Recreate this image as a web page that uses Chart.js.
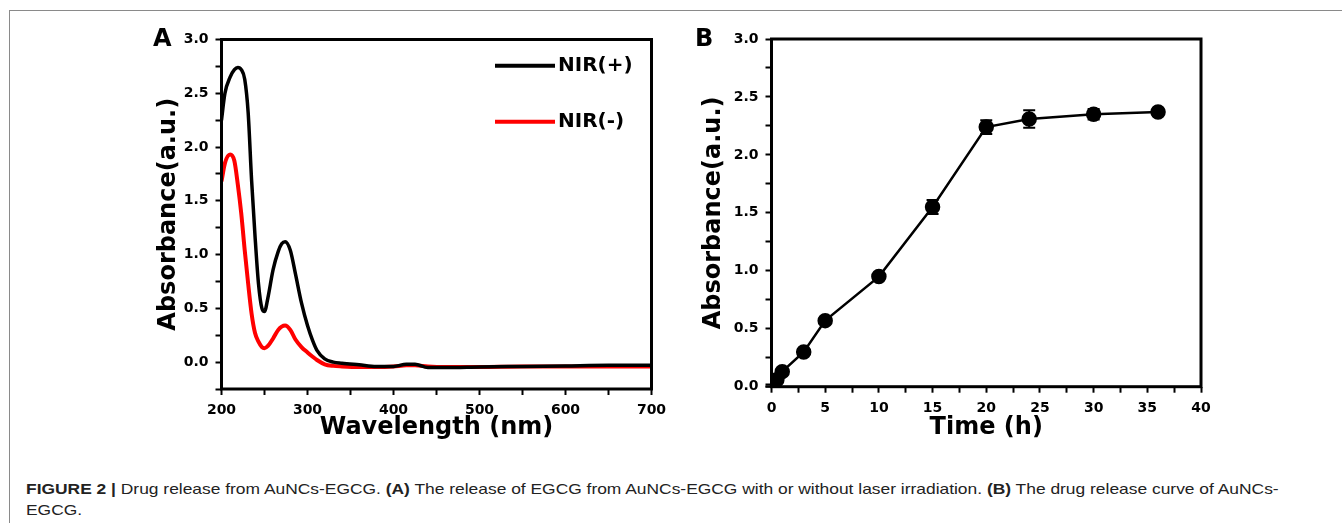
<!DOCTYPE html>
<html>
<head>
<meta charset="utf-8">
<script src="https://cdn.jsdelivr.net/npm/chart.js@4.4.1/dist/chart.umd.min.js"></script>
<style>
  html, body { margin: 0; padding: 0; background: #fff; }
  body { width: 1342px; height: 523px; position: relative; overflow: hidden; }
  #frame { position: absolute; left: 9px; top: 10px; width: 1340px; height: 520px;
           border-top: 1px solid #8a8a8a; border-left: 1px solid #8a8a8a; }
  .wrap { position: absolute; top: 0; height: 450px; }
  #wrapA { left: 0; width: 680px; }
  #wrapB { left: 680px; width: 662px; }
  .panel { position: absolute; top: 26px; font-family: "DejaVu Sans"; font-weight: bold;
           font-size: 24px; line-height: 24px; color: #000; }
  #caption { position: absolute; left: 26px; top: 478px; font-family: "Liberation Sans", Arial, sans-serif;
             font-size: 15px; line-height: 21px; color: #222; white-space: nowrap;
             transform-origin: 0 0; transform: scaleX(1.16); }
</style>
</head>
<body>
<div id="frame"></div>
<div class="wrap" id="wrapA"><canvas id="chartA" width="680" height="450"></canvas></div>
<div class="wrap" id="wrapB"><canvas id="chartB" width="662" height="450"></canvas></div>
<div class="panel" style="left:153px">A</div>
<div class="panel" style="left:695px">B</div>
<div id="caption"><b>FIGURE 2 |</b> Drug release from AuNCs-EGCG. <b>(A)</b> The release of EGCG from AuNCs-EGCG with or without laser irradiation. <b>(B)</b> The drug release curve of AuNCs-<br>EGCG.</div>

<script>
// Panel A: UV-vis spectra
const wavelengths = [200, 204, 210, 215, 219, 223, 227, 231, 235, 239, 243, 247, 250, 254, 260, 266, 270, 274,
    280, 286, 293, 300, 306, 311, 320, 330, 340, 360, 380, 400, 415, 425, 440, 460, 500, 550, 600, 650, 700];
const absNirPlus = [2.25, 2.50, 2.65, 2.72, 2.74, 2.72, 2.63, 2.32, 1.69, 1.17, 0.73, 0.50, 0.47, 0.60, 0.86, 1.03, 1.10, 1.12,
    1.04, 0.82, 0.55, 0.34, 0.20, 0.11, 0.03, 0.00, -0.01, -0.025, -0.04, -0.04, -0.02, -0.02, -0.05, -0.05, -0.045, -0.04, -0.035, -0.03, -0.03];
const absNirMinus = [1.68, 1.85, 1.93, 1.87, 1.65, 1.38, 1.04, 0.73, 0.45, 0.27, 0.19, 0.14, 0.13, 0.15, 0.22, 0.30, 0.33, 0.34,
    0.30, 0.21, 0.14, 0.09, 0.05, 0.02, -0.02, -0.035, -0.04, -0.045, -0.045, -0.04, -0.03, -0.03, -0.04, -0.045, -0.045, -0.04, -0.04, -0.04, -0.04];

// Panel B: release curve
const timeHours = [0, 0.5, 1, 3, 5, 10, 15, 20, 24, 30, 36];
const releaseAbs = [0.01, 0.06, 0.13, 0.30, 0.57, 0.95, 1.55, 2.24, 2.31, 2.35, 2.37];
const releaseErr = [0.01, 0.02, 0.02, 0.02, 0.02, 0.02, 0.06, 0.06, 0.075, 0.045, 0.03];

const FONT = '"DejaVu Sans"';

const framePlugin = {
    id: 'frame',
    afterDraw(chart) {
        const {ctx, chartArea: a} = chart;
        ctx.save();
        ctx.strokeStyle = '#000';
        ctx.lineWidth = 3;
        ctx.strokeRect(a.left, a.top, a.right - a.left, a.bottom - a.top);
        ctx.restore();
    }
};

// legend drawn inside the plot, line sample + label
const lineLegend = {
    id: 'lineLegend',
    afterDraw(chart, args, opts) {
        const {ctx, chartArea: a} = chart;
        chart.data.datasets.forEach((ds, i) => {
            const x = a.left + opts.left;
            const y = a.top + opts.top + i * opts.gap;
            ctx.save();
            ctx.strokeStyle = ds.borderColor;
            ctx.lineWidth = 4;
            ctx.beginPath();
            ctx.moveTo(x, y);
            ctx.lineTo(x + opts.len, y);
            ctx.stroke();
            ctx.fillStyle = '#000';
            ctx.font = 'bold 20px ' + FONT;
            ctx.textBaseline = 'middle';
            ctx.fillText(ds.label, x + opts.len + 3, y);
            ctx.restore();
        });
    }
};

const errorBars = {
    id: 'errorBars',
    afterDatasetsDraw(chart) {
        const {ctx, scales: {x, y}} = chart;
        const errs = chart.data.datasets[0].errors;
        ctx.save();
        ctx.strokeStyle = '#000';
        ctx.lineWidth = 2;
        chart.data.datasets[0].data.forEach((p, i) => {
            const px = x.getPixelForValue(p.x);
            const top = y.getPixelForValue(p.y + errs[i]);
            const bot = y.getPixelForValue(p.y - errs[i]);
            ctx.beginPath();
            ctx.moveTo(px, top); ctx.lineTo(px, bot);
            ctx.moveTo(px - 6, top); ctx.lineTo(px + 6, top);
            ctx.moveTo(px - 6, bot); ctx.lineTo(px + 6, bot);
            ctx.stroke();
        });
        ctx.restore();
    }
};

const everyOther = (major) => (v) => {
    const r = Math.abs(v / major - Math.round(v / major));
    return r < 1e-6 ? (major < 1 ? v.toFixed(1) : String(v)) : '';
};

const makeAxis = (o) => ({
    type: 'linear',
    min: o.min,
    max: o.max,
    grid: {drawOnChartArea: false, drawTicks: true, tickLength: 6, tickWidth: 2, tickColor: '#000'},
    border: {display: false},
    ticks: {
        stepSize: o.step,
        autoSkip: false,
        maxRotation: 0,
        color: '#000',
        padding: o.pad,
        font: {family: FONT, weight: 'bold', size: 14},
        callback: everyOther(o.major)
    },
    title: {
        display: true,
        text: o.title,
        color: '#000',
        padding: 0,
        font: {family: FONT, weight: 'bold', size: 24, lineHeight: 1}
    },
    afterFit(scale) {
        if (o.height) {
            scale.height = o.height;
        }
        if (o.width) {
            scale.width = o.width;
        }
    }
});

const pts = (xs, ys) => xs.map((v, i) => ({x: v, y: ys[i]}));

new Chart(document.getElementById('chartA').getContext('2d'), {
    type: 'line',
    data: {
        datasets: [
            {label: 'NIR(+)', data: pts(wavelengths, absNirPlus), borderColor: '#000', borderWidth: 3.5,
             pointRadius: 0, cubicInterpolationMode: 'monotone', fill: false},
            {label: 'NIR(-)', data: pts(wavelengths, absNirMinus), borderColor: '#ff0000', borderWidth: 4,
             pointRadius: 0, cubicInterpolationMode: 'monotone', fill: false}
        ]
    },
    options: {
        responsive: false,
        animation: false,
        devicePixelRatio: 1,
        layout: {padding: {left: 157, top: 39.5, right: 28.5, bottom: 10.5}},
        plugins: {
            legend: {display: false},
            tooltip: {enabled: false},
            lineLegend: {left: 273.5, top: 26.2, gap: 56, len: 60}
        },
        scales: {
            x: makeAxis({min: 200, max: 700, step: 50, major: 100, pad: 7, title: 'Wavelength (nm)', height: 50.5}),
            y: makeAxis({min: -0.25, max: 3.0, step: 0.25, major: 0.5, pad: 7, title: 'Absorbance(a.u.)', width: 64.5})
        }
    },
    plugins: [framePlugin, lineLegend]
});

new Chart(document.getElementById('chartB').getContext('2d'), {
    type: 'line',
    data: {
        datasets: [
            {label: 'release', data: pts(timeHours, releaseAbs), errors: releaseErr, borderColor: '#000',
             borderWidth: 2.5, pointRadius: 6.5, pointBackgroundColor: '#000', pointBorderColor: '#000',
             tension: 0, fill: false}
        ]
    },
    options: {
        responsive: false,
        animation: false,
        devicePixelRatio: 1,
        layout: {padding: {left: 22, top: 39, right: 141, bottom: 10.5}},
        plugins: {
            legend: {display: false},
            tooltip: {enabled: false}
        },
        scales: {
            x: makeAxis({min: 0, max: 40, step: 2.5, major: 5, pad: 7, title: 'Time (h)', height: 52.8}),
            y: makeAxis({min: 0, max: 3.0, step: 0.25, major: 0.5, pad: 7, title: 'Absorbance(a.u.)', width: 69.5})
        }
    },
    plugins: [framePlugin, errorBars]
});
</script>
</body>
</html>
